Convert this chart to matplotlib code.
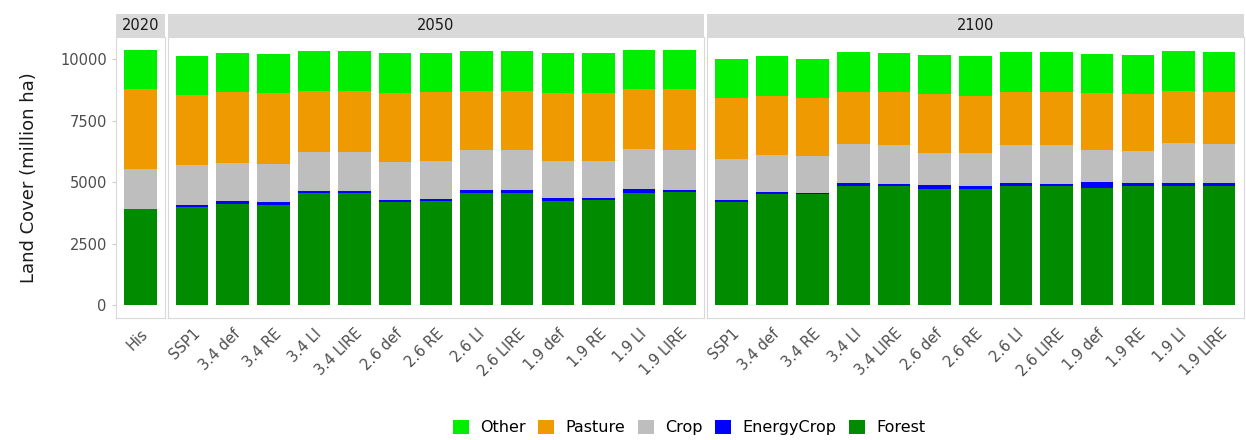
import numpy as np
import matplotlib.pyplot as plt
from matplotlib.patches import Patch

# Land cover (million ha)
years = ["2020", "2050", "2100"]
his_labels = ["His"]
scen_labels = ["SSP1", "3.4 def", "3.4 RE", "3.4 LI", "3.4 LIRE", "2.6 def", "2.6 RE",
               "2.6 LI", "2.6 LIRE", "1.9 def", "1.9 RE", "1.9 LI", "1.9 LIRE"]

forest_2020 = [3900]
energy_2020 = [0]
crop_2020 = [1650]
pasture_2020 = [3240]
other_2020 = [1590]

forest_2050 = [3980, 4120, 4065, 4565, 4565, 4185, 4225, 4575, 4575, 4225, 4265, 4575, 4590]
energy_2050 = [110, 95, 110, 95, 80, 80, 80, 120, 120, 135, 95, 160, 110]
crop_2050 = [1620, 1565, 1580, 1565, 1580, 1565, 1540, 1605, 1605, 1510, 1510, 1605, 1605]
pasture_2050 = [2860, 2875, 2860, 2510, 2500, 2820, 2810, 2430, 2430, 2755, 2755, 2445, 2485]
other_2050 = [1590, 1595, 1595, 1595, 1605, 1595, 1595, 1605, 1605, 1620, 1620, 1590, 1590]

forest_2100 = [4185, 4510, 4510, 4835, 4845, 4710, 4740, 4845, 4845, 4780, 4835, 4835, 4835]
energy_2100 = [95, 110, 40, 135, 80, 175, 95, 120, 80, 230, 135, 135, 135]
crop_2100 = [1675, 1470, 1500, 1580, 1595, 1325, 1375, 1565, 1595, 1295, 1295, 1620, 1580]
pasture_2100 = [2485, 2430, 2390, 2145, 2175, 2375, 2320, 2160, 2175, 2310, 2310, 2145, 2145]
other_2100 = [1595, 1620, 1595, 1605, 1555, 1595, 1605, 1605, 1605, 1605, 1605, 1605, 1605]

layer_names = ["Forest", "EnergyCrop", "Crop", "Pasture", "Other"]
layer_colors = ["#008B00", "#0000FF", "#BEBEBE", "#EE9A00", "#00EE00"]

panels = [
    (his_labels, [forest_2020, energy_2020, crop_2020, pasture_2020, other_2020]),
    (scen_labels, [forest_2050, energy_2050, crop_2050, pasture_2050, other_2050]),
    (scen_labels, [forest_2100, energy_2100, crop_2100, pasture_2100, other_2100]),
]

fig = plt.figure(figsize=(12.46, 4.4), dpi=100)
gs = fig.add_gridspec(1, 3, width_ratios=[1.2, 13.2, 13.2],
                      left=0.093, right=0.998, top=0.915, bottom=0.278, wspace=0.008)

text_col = "#4D4D4D"
border_col = "#D9D9D9"

for i, (labels, layers) in enumerate(panels):
    ax = fig.add_subplot(gs[0, i])
    x = np.arange(len(labels))
    bottom = np.zeros(len(labels))
    for vals, color in zip(layers, layer_colors):
        ax.bar(x, vals, width=0.8, bottom=bottom, color=color, linewidth=0)
        bottom += np.array(vals)

    ax.set_xlim(-0.6, len(labels) - 0.4)
    ax.set_ylim(-520, 10900)
    ax.set_xticks(x)
    ax.set_xticklabels(labels, rotation=45, ha="right", va="top",
                       rotation_mode="anchor", fontsize=10.5, color=text_col)
    ax.tick_params(axis="x", length=0, pad=6)
    ax.tick_params(axis="y", length=3, color="#CCCCCC", labelsize=10.5, labelcolor=text_col)
    ax.set_yticks([0, 2500, 5000, 7500, 10000])
    if i > 0:
        ax.set_yticklabels([])
        ax.tick_params(axis="y", length=0)
    for s in ax.spines.values():
        s.set_color(border_col)
        s.set_linewidth(0.8)

    # facet strip
    strip = plt.Rectangle((0, 1.0), 1, 0.085, transform=ax.transAxes, fc="#D9D9D9",
                          ec="none", clip_on=False)
    ax.add_patch(strip)
    ax.text(0.5, 1.0425, years[i], transform=ax.transAxes, ha="center", va="center",
            fontsize=10.5, color="#1A1A1A")

    if i == 0:
        ax.set_ylabel("Land Cover (million ha)", fontsize=13, color="#1A1A1A", labelpad=16)

handles = [Patch(facecolor=c, label=n) for n, c in
           zip(layer_names[::-1], layer_colors[::-1])]
fig.legend(handles=handles, loc="lower center", bbox_to_anchor=(0.553, -0.022), ncol=5,
           frameon=False, fontsize=11.5, handlelength=1.0, handleheight=1.0,
           handletextpad=0.7, columnspacing=0.8)

plt.savefig("out.png", dpi=100)
